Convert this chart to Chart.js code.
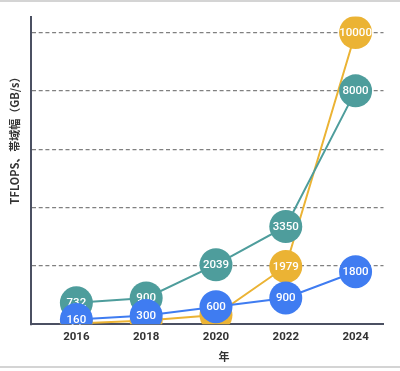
<!DOCTYPE html>
<html>
<head>
<meta charset="utf-8">
<script src="https://cdn.jsdelivr.net/npm/chart.js@4"></script>
<style>
  html, body { margin: 0; padding: 0; background: #fff; }
  #wrap { position: relative; width: 400px; height: 371px; }
  #chart { position: absolute; left: 0; top: 0; }
  .edge { position: absolute; left: 0; width: 400px; height: 2px; background: #d4d4d4; }
</style>
</head>
<body>
<div id="wrap">
  <canvas id="chart" width="400" height="371"></canvas>
  <div class="edge" style="top:0"></div>
  <div class="edge" style="top:366px"></div>
</div>
<script>
var years = [2016, 2018, 2020, 2022, 2024];
var tflopsA = [21, 125, 312, 1979, 10000];
var bandwidth = [732, 900, 2039, 3350, 8000];
var tflopsB = [160, 300, 600, 900, 1800];
var gridValues = [2000, 4000, 6000, 8000, 10000];
var yTitle = 'TFLOPS、帯域幅（GB/s）';
var xTitle = '年';

function pts(vals) {
    return years.map(function (y, i) { return { x: y, y: vals[i] }; });
}

function series(label, vals, color) {
    return {
        label: label,
        data: pts(vals),
        borderColor: color,
        backgroundColor: color,
        pointBackgroundColor: color,
        pointBorderColor: color,
        pointBorderWidth: 0,
        pointRadius: 16.5,
        pointHoverRadius: 16.5,
        borderWidth: 2,
        lineTension: 0,
        fill: false
    };
}

// white numbers inside the circles, drawn right after each dataset so overlaps stay in order
var valueLabels = {
    id: 'valueLabels',
    afterDatasetDraw: function (chart, args) {
        var ctx = chart.ctx;
        var ds = chart.data.datasets[args.index];
        ctx.save();
        ctx.fillStyle = '#ffffff';
        ctx.font = '500 11.5px Roboto';
        ctx.textAlign = 'center';
        ctx.textBaseline = 'middle';
        args.meta.data.forEach(function (p, i) {
            ctx.fillText(String(ds.data[i].y), p.x, p.y + 0.5);
        });
        ctx.restore();
    }
};

var axisTitles = {
    id: 'axisTitles',
    afterDraw: function (chart) {
        var ctx = chart.ctx;
        ctx.save();
        ctx.fillStyle = '#333333';
        ctx.font = 'bold 11px "Noto Sans CJK JP"';
        ctx.textAlign = 'center';
        ctx.textBaseline = 'middle';
        ctx.translate(15, 138);
        ctx.rotate(-Math.PI / 2);
        ctx.fillText(yTitle, 0, 0);
        ctx.restore();
        ctx.save();
        ctx.fillStyle = '#333333';
        ctx.font = 'bold 11px "Noto Sans CJK JP"';
        ctx.textAlign = 'center';
        ctx.textBaseline = 'middle';
        ctx.fillText(xTitle, 224, 357);
        ctx.restore();
    }
};

var ctx = document.getElementById('chart').getContext('2d');
var chart = new Chart(ctx, {
    type: 'line',
    data: {
        datasets: [
            series('B', tflopsB, '#3f7cf1'),
            series('帯域幅', bandwidth, '#4e9d9c'),
            series('A', tflopsA, '#ebb334')
        ]
    },
    options: {
        responsive: false,
        animation: false,
        layout: { padding: { left: 31, right: 7, top: 14, bottom: 21 } },
        scales: {
            x: {
                type: 'linear',
                min: 2014.7,
                max: 2024.8,
                afterBuildTicks: function (scale) {
                    scale.ticks = years.map(function (v) { return { value: v }; });
                },
                grid: { display: false, drawTicks: false },
                border: { display: true, color: '#4b5062', width: 2 },
                ticks: {
                    padding: 6,
                    color: '#333333',
                    font: { family: 'Roboto', size: 11.5, weight: 'bold' },
                    callback: function (v) { return String(v); }
                }
            },
            y: {
                min: 0,
                max: 10550,
                afterBuildTicks: function (scale) {
                    scale.ticks = gridValues.map(function (v) { return { value: v }; });
                },
                ticks: { display: false },
                grid: {
                    display: true,
                    drawTicks: false,
                    lineWidth: 1.2,
                    color: '#808080'
                },
                border: { display: true, color: '#4b5062', width: 2, dash: [4, 2.7] }
            }
        },
        plugins: {
            legend: { display: false },
            tooltip: { enabled: false }
        }
    },
    plugins: [valueLabels, axisTitles]
});
</script>
</body>
</html>
